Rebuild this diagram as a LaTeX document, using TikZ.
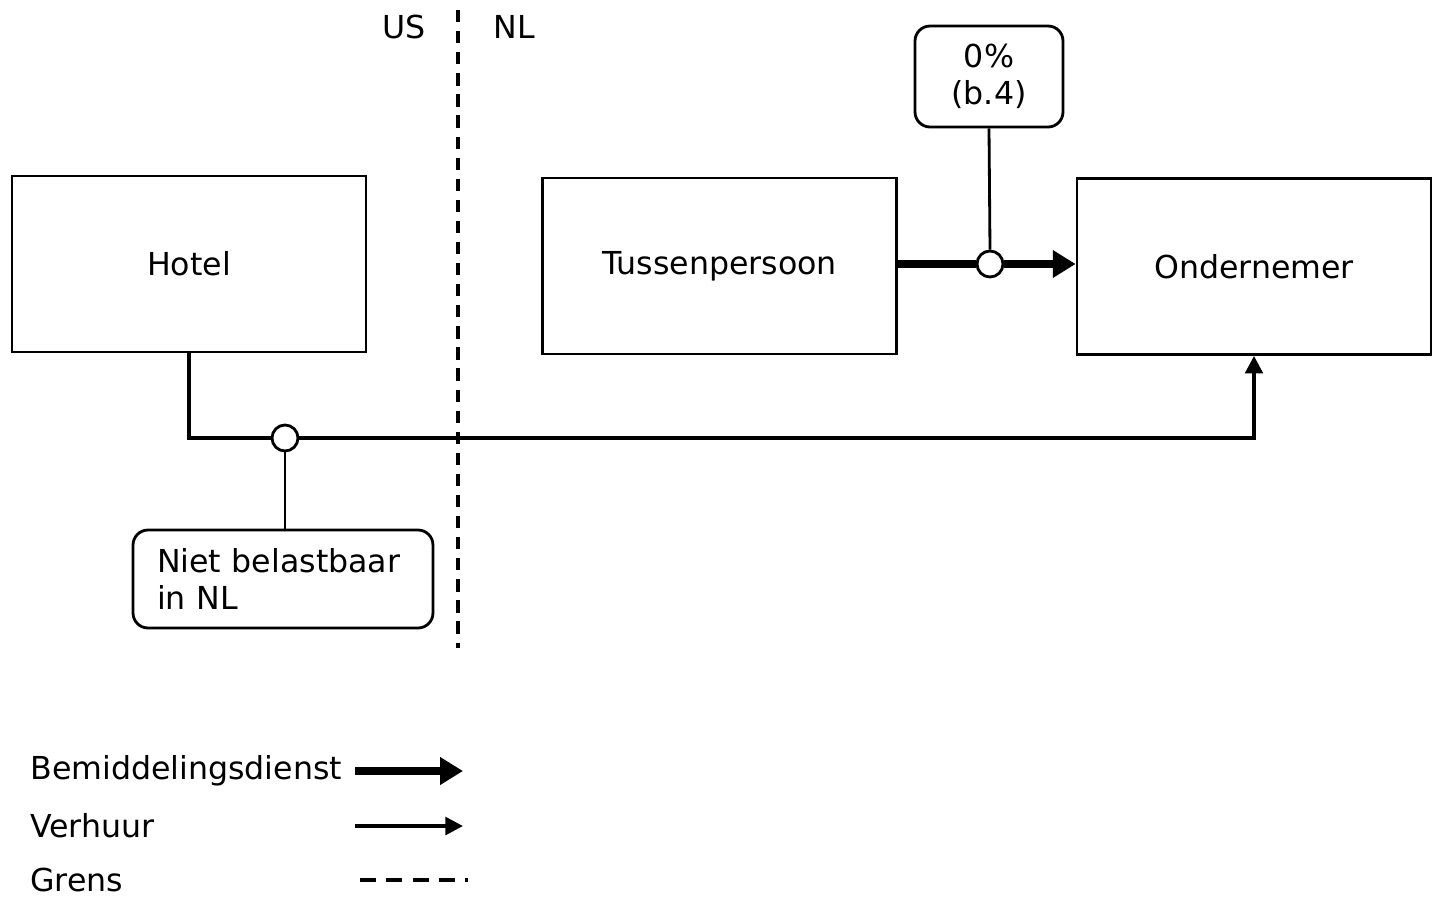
\documentclass[tikz,border=0pt]{standalone}
\usepackage{fontspec}
\setmainfont{DejaVu Sans}
\usetikzlibrary{arrows.meta}
\begin{document}
\begin{tikzpicture}[x=0.02cm, y=-0.02cm,
    font=\fontsize{18}{21}\selectfont,
    partij/.style={rectangle,draw,line width=1.6pt,minimum width=7.08cm,minimum height=3.52cm},
    tarief/.style={rectangle,draw,rounded corners=0.3cm,line width=1.6pt},
    knoop/.style={circle,draw,fill=white,line width=1.6pt,minimum size=0.52cm,inner sep=0pt},
    verhuur/.style={line width=2.1pt},
    bemid/.style={line width=4.6pt},
    grens/.style={line width=2pt,dash pattern=on 7pt off 5pt} ]
    \useasboundingbox (0,0) rectangle (1440,910);
    % partijen
    \node at (189,264) [partij] (hotel) {Hotel};
    \node at (719.5,266) [partij] (tussen) {Tussenpersoon};
    \node at (1254,266.5) [partij] (onder) {Ondernemer};
    % grens US / NL
    \coordinate (g1) at (458,10);
    \coordinate (g2) at (458,648);
    \draw [grens] (g1) -- (g2);
    \node at (404,27) (us) {US};
    \node at (514,27) (nl) {NL};
    % bemiddelingsdienst
    \node at (990,264) [knoop] (k1) {};
    \draw [bemid] (tussen.east |- k1) -- (k1.west);
    \draw [bemid,-{Triangle[length=13pt,width=15pt]}] (k1.east) -- (onder.west |- k1);
    \node at (989,76.5) [tarief,minimum width=2.96cm,minimum height=2.02cm,align=center] (b4) {0\%\\(b.4)};
    \draw [line width=1.6pt] (b4.south) -- (k1.north);
    % verhuur
    \node at (285,438) [knoop] (k2) {};
    \draw [verhuur] (hotel.south) |- (k2.west);
    \draw [verhuur,-{Triangle[length=10pt,width=10pt]}] (k2.east) -| (onder.south);
    \node at (283,579) [tarief,minimum width=6cm,minimum height=1.96cm,text width=5.04cm,align=left] (niet) {Niet belastbaar\\in NL};
    \draw [line width=1.6pt] (k2.south) -- (niet.north -| k2.south);
    % legenda
    \node at (30,771) [anchor=west,inner xsep=0pt] (l1) {Bemiddelingsdienst};
    \node at (30,826) [anchor=west,inner xsep=0pt] (l2) {Verhuur};
    \node at (30,880) [anchor=west,inner xsep=0pt] (l3) {Grens};
    \coordinate (a1) at (355,771);
    \coordinate (b1) at (463,771);
    \coordinate (a2) at (355,826);
    \coordinate (b2) at (463,826);
    \coordinate (a3) at (360,880);
    \coordinate (b3) at (468,880);
    \draw [bemid,-{Triangle[length=13pt,width=15pt]}] (a1) -- (b1);
    \draw [verhuur,-{Triangle[length=10pt,width=10pt]}] (a2) -- (b2);
    \draw [grens,dash pattern=on 9pt off 6pt] (a3) -- (b3);
\end{tikzpicture}
\end{document}
